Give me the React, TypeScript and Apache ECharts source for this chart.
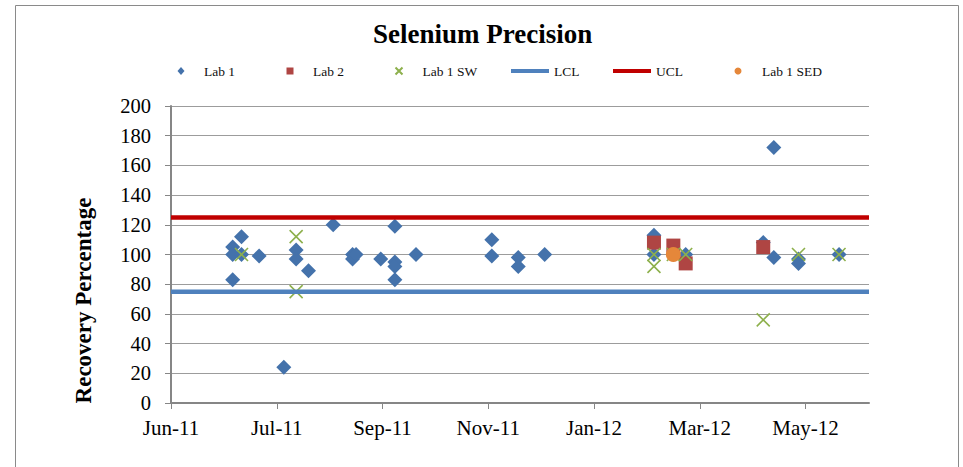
import React, { useEffect, useRef } from 'react';
import * as echarts from 'echarts';

// ---- data ----
const ORIGIN_DATE = '2011-06-01';
const AXIS_END_DATE = '2012-07-01';
const TICK_STEP_DAYS = 60;
const xTickLabels = ['Jun-11', 'Jul-11', 'Sep-11', 'Nov-11', 'Jan-12', 'Mar-12', 'May-12'];
const yTicks = [0, 20, 40, 60, 80, 100, 120, 140, 160, 180, 200];

const lab1Dates = [
  '2011-07-06', '2011-07-06', '2011-07-06',
  '2011-07-11', '2011-07-11',
  '2011-07-21',
  '2011-08-04',
  '2011-08-11', '2011-08-11',
  '2011-08-18',
  '2011-09-01',
  '2011-09-12', '2011-09-12',
  '2011-09-14',
  '2011-09-28',
  '2011-10-06', '2011-10-06', '2011-10-06', '2011-10-06',
  '2011-10-18',
  '2011-11-30', '2011-11-30',
  '2011-12-15', '2011-12-15',
  '2011-12-30',
  '2012-03-01', '2012-03-01',
  '2012-03-12',
  '2012-03-19',
  '2012-05-02',
  '2012-05-08', '2012-05-08',
  '2012-05-22', '2012-05-22',
  '2012-06-14',
];
const lab1Values = [
  105, 100, 83,
  112, 100,
  99,
  24,
  103, 97,
  89,
  120,
  100, 97,
  100,
  97,
  119, 95, 92, 83,
  100,
  110, 99,
  98, 92,
  100,
  113, 100,
  100,
  100,
  108,
  172, 98,
  97, 94,
  100,
];

const lab2Dates = ['2012-03-01', '2012-03-12', '2012-03-19', '2012-05-02'];
const lab2Values = [108, 106, 94, 105];

const lab1SwDates = [
  '2011-07-11', '2011-08-11', '2011-08-11', '2012-03-01', '2012-03-01',
  '2012-03-12', '2012-03-19', '2012-05-02', '2012-05-22', '2012-06-14',
];
const lab1SwValues = [100, 112, 75, 100, 92, 100, 100, 56, 100, 100];

const lab1SedDates = ['2012-03-12'];
const lab1SedValues = [100];

const lclValue = 75;
const uclValue = 125;

// ---- helpers ----
const toUTC = (s: string) => {
  const [y, m, d] = s.split('-').map(Number);
  return Date.UTC(y, m - 1, d);
};
const dayOffset = (s: string) => Math.round((toUTC(s) - toUTC(ORIGIN_DATE)) / 86400000);
const AXIS_MAX = dayOffset(AXIS_END_DATE);
const xTickValues = xTickLabels.map((_, i) => i * TICK_STEP_DAYS);
const pairs = (dates: string[], vals: number[]) => dates.map((d, i) => [dayOffset(d), vals[i]]);

const SERIF = "'Liberation Serif', 'Times New Roman', serif";
const X_PATH = 'path://M0,0L10,10M10,0L0,10';

export default function App() {
  const ref = useRef<HTMLDivElement>(null);

  useEffect(() => {
    if (!ref.current) return;
    const chart = echarts.init(ref.current, undefined, { renderer: 'svg' });

    const legendText = (pad: number) => ({
      fontFamily: SERIF,
      fontSize: 13.5,
      lineHeight: 14,
      color: '#111',
      padding: [0, 0, 0, pad],
    });
    const legendCommon = { orient: 'horizontal', padding: 0, top: 64, itemGap: 0 };

    chart.setOption({
      animation: false,
      backgroundColor: '#fff',
      title: {
        text: 'Selenium Precision',
        left: 373,
        top: 20,
        padding: 0,
        textStyle: { fontFamily: SERIF, fontSize: 27, fontWeight: 'bold', color: '#000' },
      },
      graphic: [
        {
          type: 'rect',
          shape: { x: 15.5, y: 5.5, width: 943, height: 520 },
          style: { fill: 'none', stroke: '#8a8a8a', lineWidth: 1 },
          silent: true,
        },
      ],
      legend: [
        { ...legendCommon, data: ['Lab 1'], left: 177.5, itemWidth: 7, itemHeight: 8, textStyle: legendText(14.5) },
        { ...legendCommon, data: ['Lab 2'], left: 286.5, itemWidth: 7, itemHeight: 7, textStyle: legendText(14.5) },
        { ...legendCommon, data: ['Lab 1 SW'], left: 394.5, itemWidth: 7, itemHeight: 7, textStyle: legendText(15) },
        { ...legendCommon, data: ['LCL'], left: 511, itemWidth: 38, itemHeight: 4, icon: 'rect', textStyle: legendText(0) },
        { ...legendCommon, data: ['UCL'], left: 613, itemWidth: 38, itemHeight: 4, icon: 'rect', textStyle: legendText(0) },
        { ...legendCommon, data: ['Lab 1 SED'], left: 734.5, itemWidth: 7, itemHeight: 7, textStyle: legendText(15.5) },
      ],
      grid: { left: 171, right: 94, top: 106, bottom: 64, containLabel: false },
      xAxis: {
        type: 'value',
        min: 0,
        max: AXIS_MAX,
        interval: TICK_STEP_DAYS,
        axisLine: { show: true, onZero: false, lineStyle: { color: '#868686', width: 2 } },
        axisTick: { show: true, inside: false, length: 6, customValues: xTickValues, lineStyle: { color: '#868686', width: 1 } },
        axisLabel: {
          customValues: xTickValues,
          margin: 14,
          fontFamily: SERIF,
          fontSize: 21,
          color: '#000',
          formatter: (v: number) => {
            const i = xTickValues.indexOf(v);
            return i >= 0 ? xTickLabels[i] : '';
          },
        },
        splitLine: { show: false },
      },
      yAxis: {
        type: 'value',
        min: yTicks[0],
        max: yTicks[yTicks.length - 1],
        interval: yTicks[1] - yTicks[0],
        name: 'Recovery Percentage',
        nameLocation: 'middle',
        nameGap: 76,
        nameTextStyle: {
          fontFamily: SERIF,
          fontSize: 23,
          fontWeight: 'bold',
          color: '#000',
          padding: [0, 92, 0, 0],
        },
        axisLine: { show: true, lineStyle: { color: '#868686', width: 2 } },
        axisTick: { show: true, inside: false, length: 6, lineStyle: { color: '#868686', width: 1 } },
        axisLabel: { margin: 20, fontFamily: SERIF, fontSize: 20.5, color: '#000' },
        splitLine: { show: true, lineStyle: { color: '#9c9c9c', width: 1.2 } },
      },
      series: [
        {
          name: 'Lab 1',
          type: 'scatter',
          symbol: 'diamond',
          symbolSize: 15,
          itemStyle: { color: '#4472AB', opacity: 1 },
          data: pairs(lab1Dates, lab1Values),
        },
        {
          name: 'Lab 2',
          type: 'scatter',
          symbol: 'rect',
          symbolSize: 14,
          itemStyle: { color: '#AF4543', opacity: 1 },
          data: pairs(lab2Dates, lab2Values),
        },
        {
          name: 'Lab 1 SW',
          type: 'scatter',
          symbol: X_PATH,
          symbolSize: 13,
          itemStyle: { color: 'rgba(0,0,0,0)', borderColor: '#8DB04C', borderWidth: 1.6, opacity: 1 },
          data: pairs(lab1SwDates, lab1SwValues),
        },
        {
          name: 'LCL',
          type: 'line',
          showSymbol: false,
          symbol: 'none',
          lineStyle: { color: '#4F81BD', width: 4.5 },
          itemStyle: { color: '#4F81BD' },
          data: [[0, lclValue], [AXIS_MAX, lclValue]],
        },
        {
          name: 'UCL',
          type: 'line',
          showSymbol: false,
          symbol: 'none',
          lineStyle: { color: '#C00000', width: 4.5 },
          itemStyle: { color: '#C00000' },
          data: [[0, uclValue], [AXIS_MAX, uclValue]],
        },
        {
          name: 'Lab 1 SED',
          type: 'scatter',
          symbol: 'circle',
          symbolSize: 15,
          itemStyle: { color: '#E5873A', opacity: 1 },
          data: pairs(lab1SedDates, lab1SedValues),
        },
      ],
    });

    return () => chart.dispose();
  }, []);

  return (
    <div
      ref={ref}
      style={{ position: 'absolute', left: 0, top: 0, width: 963, height: 467 }}
    />
  );
}
